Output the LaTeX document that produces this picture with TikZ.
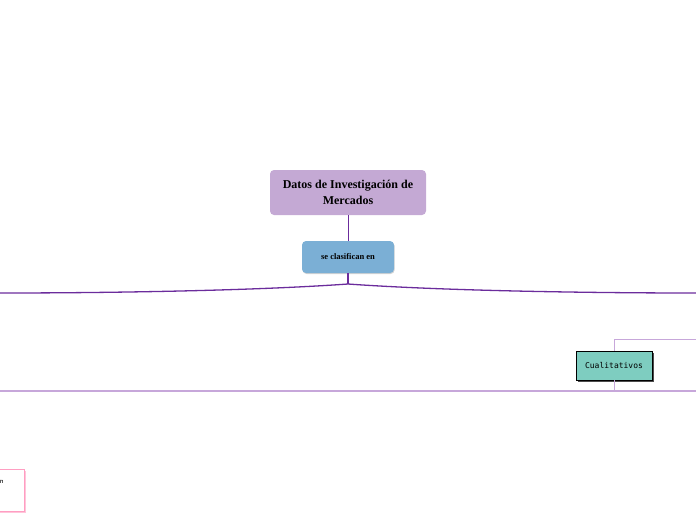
\documentclass[tikz,border=0pt]{standalone}
\usepackage{fontspec}
\setmainfont{Liberation Serif}
\setmonofont{DejaVu Sans Mono}
\usetikzlibrary{positioning,shadows}
\definecolor{lila}{HTML}{C4A9D4}
\definecolor{azul}{HTML}{7BAFD5}
\definecolor{verde}{HTML}{7ECDC0}
\definecolor{rosa}{HTML}{FF9EC2}
\definecolor{morado}{HTML}{6B2C9C}
\definecolor{malva}{HTML}{C7A7DA}
\tikzset{
  topic/.style={fill=lila, rounded corners=4pt, minimum width=156pt, minimum height=45pt,
    align=center, font=\bfseries\fontsize{12}{16}\selectfont},
  linker/.style={fill=azul, rounded corners=4pt, minimum width=92pt, minimum height=32pt,
    font=\bfseries\fontsize{8.5}{10}\selectfont, drop shadow={shadow xshift=0.6pt, shadow yshift=-1pt, opacity=0.35}},
  kind/.style={fill=verde, draw=black, line width=0.7pt, minimum width=76pt, minimum height=29pt,
    font=\ttfamily\fontsize{8}{10}\selectfont, drop shadow={shadow xshift=1.5pt, shadow yshift=-1.5pt, opacity=1, fill=black!70}},
  note/.style={fill=white, draw=rosa, line width=0.8pt, minimum width=72pt, text width=30pt, align=right,
    inner xsep=21pt, inner ysep=9pt, text height=5pt, text depth=19pt,
    font=\sffamily\fontsize{7}{8}\selectfont, drop shadow={shadow xshift=1.5pt, shadow yshift=-1.5pt, opacity=0.6, fill=rosa}},
  branch/.style={draw=morado, line width=1.3pt},
  thin/.style={draw=malva, line width=0.8pt}
}
\begin{document}
\begin{tikzpicture}[x=1pt, y=-1pt]
  \useasboundingbox (0,0) rectangle (696,520);

  % Nodes
  \node[topic] (datos) at (348,192.5) {Datos de Investigación de\\Mercados};
  \node[linker] (clasif) at (348,257) {se clasifican en};
  \node[kind] (cual) at (614,365.5) {Cualitativos};
  \node[note, anchor=north east] (resto) at (25,469) {n};

  % Free ends
  \coordinate (nudo) at (348,284);
  \coordinate (izq) at (0,293);
  \coordinate (der) at (696,293);
  \coordinate (base0) at (0,391);
  \coordinate (base1) at (696,391);
  \coordinate (arribaf) at (696,339);
  \coordinate (abajo) at (614,391);

  % Main connectors
  \draw[branch, line width=1pt] (datos.south) -- (clasif.north);
  \draw[branch, line width=1.8pt] (clasif.south) -- (nudo);
  \draw[branch] (nudo) .. controls (250,291) and (100,293) .. (izq);
  \draw[branch] (nudo) .. controls (446,291) and (596,293) .. (der);

  % Base line and Cualitativos links
  \draw[thin, line width=1.2pt] (base0) -- (base1);
  \draw[thin] (cual.north) |- (arribaf);
  \draw[thin] (cual.south) -- (abajo);
\end{tikzpicture}
\end{document}
